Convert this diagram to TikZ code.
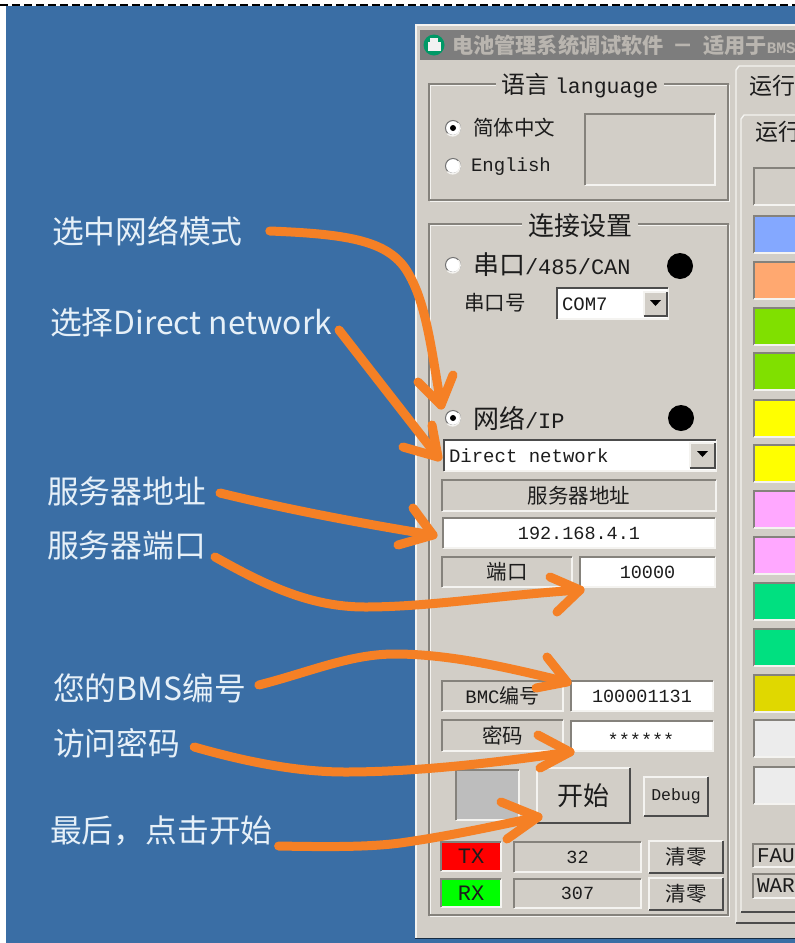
\documentclass[tikz,border=0pt]{standalone}
\usepackage{fontspec}
\setmainfont{Noto Sans CJK SC}
\newfontfamily\mono{Liberation Mono}
\definecolor{desk}{HTML}{3A6EA5}
\definecolor{panel}{HTML}{D2CEC7}
\definecolor{etch}{HTML}{85827C}
\definecolor{hilite}{HTML}{F4F3F0}
\definecolor{arrowor}{HTML}{F58025}
\definecolor{lbl}{HTML}{E6F0F8}
\definecolor{ink}{HTML}{1C1C1C}
\definecolor{ledgray}{HTML}{BDBDBD}
\newcommand{\fs}[1]{\fontsize{#1}{#1}\selectfont}
\tikzset{
  uinode/.style={inner sep=0pt,outer sep=0pt,anchor=center,text=ink,align=center},
  darkedge/.style={draw=etch,line width=1.6pt},
  darkeredge/.style={draw=black!70,line width=2pt},
  liteedge/.style={draw=hilite,line width=1.6pt},
  callout/.style={text=lbl,font=\fs{31.8},anchor=west,inner sep=0pt,outer sep=0pt},
  uitext/.style={text=ink,inner sep=0pt,outer sep=0pt,anchor=west},
  handarrow/.style={draw=arrowor,line width=9pt,line cap=round,line join=round},
  swatch/.style={darkedge},
  groupline/.style={draw=etch,line width=1.2pt}
}
% sunken box: name,x1,y1,x2,y2,fill,size,text
\newcommand{\sunk}[8]{%
  \pgfmathsetmacro\bw{#4-#2}\pgfmathsetmacro\bh{#5-#3}%
  \pgfmathsetmacro\bx{(#2+#4)/2}\pgfmathsetmacro\by{(#3+#5)/2}%
  \node[uinode,fill=#6,minimum width=\bw pt,minimum height=\bh pt,font=\fs{#7}] (#1) at (\bx,\by) {#8};
  \draw[liteedge] (#1.south west) -- (#1.south east) -- (#1.north east);
  \draw[darkedge] (#1.south west) -- (#1.north west) -- (#1.north east);
}
% raised button
\newcommand{\rais}[8]{%
  \pgfmathsetmacro\bw{#4-#2}\pgfmathsetmacro\bh{#5-#3}%
  \pgfmathsetmacro\bx{(#2+#4)/2}\pgfmathsetmacro\by{(#3+#5)/2}%
  \node[uinode,fill=#6,minimum width=\bw pt,minimum height=\bh pt,font=\fs{#7}] (#1) at (\bx,\by) {#8};
  \draw[liteedge] (#1.south west) -- (#1.north west) -- (#1.north east);
  \draw[darkeredge] (#1.south west) -- (#1.south east) -- (#1.north east);
}
% group frame
\newcommand{\grp}[4]{%
  \draw[hilite,line width=1.2pt] (#1+1.5,#2+1.5) rectangle (#3+1.5,#4+1.5);
  \draw[groupline] (#1,#2) rectangle (#3,#4);
}
% radio: name,x,y
\newcommand{\radio}[3]{%
  \node[circle,fill=white,draw=black!55,line width=1pt,minimum size=15pt,inner sep=0pt] (#1) at (#2,#3) {};
  \draw[hilite,line width=1.5pt] (#1.south west) arc[start angle=225,end angle=405,radius=7.5pt];
}
\begin{document}
\begin{tikzpicture}[x=1pt,y=-1pt]
\useasboundingbox (0,0) rectangle (795,943);
\clip (0,0) rectangle (795,943);
\fill[white] (0,0) rectangle (795,943);
\fill[desk] (6,6) rectangle (795,943);
\draw[black,line width=2pt,dash pattern=on 8pt off 4pt] (0,5) -- (795,5);
% window
\fill[panel] (415,24) rectangle (795,938);
\draw[hilite,line width=2pt] (416,938) -- (416,25) -- (795,25);
\draw[black!60!desk,line width=1.5pt] (415,938.5) -- (795,938.5);
\fill[gray!98!black] (420,30) rectangle (795,60);
\node[circle,fill=teal!80!green,minimum size=21pt,inner sep=0pt] (appicon) at (434,45) {};
\fill[white!90!gray] (428,42) rectangle (441,51);
\fill[white!90!gray] (430,38) rectangle (438,42);
\node[uitext,text=black!12!panel,font=\fs{21.2}\bfseries] (wintitle) at (452,45) {电池管理系统调试软件\hspace{9pt}－\hspace{9pt}适用于{\mono\fs{16}BMS}};
% language group
\grp{429}{84}{728}{200}
\node[uinode,fill=panel,font=\fs{24},inner xsep=6pt] (langtitle) at (580,86) {语言 {\mono\fs{21.5}language}};
\radio{radzh}{453}{128}
\fill[black] (radzh) circle (3pt);
\node[uitext,font=\fs{20.5}] (zhlabel) at (473,128) {简体中文};
\radio{raden}{453}{166}
\node[uitext,font=\fs{19}\mono] (enlabel) at (471,167) {English};
\sunk{langbox}{585}{114}{715}{185}{panel}{10}{}
% connection group
\grp{429}{224}{728}{915}
\node[uinode,fill=panel,font=\fs{26},inner xsep=6pt] (conntitle) at (580,226) {连接设置};
\radio{radser}{453}{265}
\node[uitext,font=\fs{26}] (serlabel) at (473,265) {串口{\mono\fs{22}/485/CAN}};
\node[circle,fill=black,minimum size=26pt,inner sep=0pt] (serdot) at (680,266) {};
\node[uitext,font=\fs{20.5}] (comlabel) at (464,303) {串口号};
\node[uinode,fill=white,minimum width=111pt,minimum height=31pt] (combox) at (612.5,303.5) {};
\node[uitext,font=\fs{19}\mono] (comtext) at (562,304) {COM7};
\draw[liteedge] (combox.south west) -- (combox.south east) -- (combox.north east);
\draw[darkeredge] (combox.south west) -- (combox.north west) -- (combox.north east);
\rais{combtn}{644}{292}{667}{316}{panel}{10}{}
\fill[black] (650,300) -- (661,300) -- (655.5,306) -- cycle;
\radio{radnet}{453}{418}
\fill[black] (radnet) circle (3pt);
\node[uitext,font=\fs{26}] (netlabel) at (473,418) {网络{\mono\fs{22}/IP}};
\node[circle,fill=black,minimum size=26pt,inner sep=0pt] (netdot) at (681,418) {};
\node[uinode,fill=white,minimum width=272pt,minimum height=31pt] (combo) at (580,455.5) {};
\node[uitext,font=\fs{19}\mono] (combotext) at (449,456) {Direct network};
\draw[liteedge] (combo.south west) -- (combo.south east) -- (combo.north east);
\draw[darkeredge] (combo.south west) -- (combo.north west) -- (combo.north east);
\rais{netbtn}{690}{443}{715}{468}{panel}{10}{}
\fill[black] (697,451) -- (708,451) -- (702.5,457) -- cycle;
\sunk{addrlbl}{442}{480}{716}{511}{panel}{20.5}{服务器地址}
\sunk{addr}{443}{518}{715}{548}{white}{18.5}{\mono 192.168.4.1}
\sunk{portlbl}{442}{557}{572}{587}{panel}{20.5}{端口}
\sunk{port}{580}{557}{715}{587}{white}{18.5}{\mono 10000}
\sunk{bmclbl}{442}{681}{563}{711}{panel}{20}{{\mono\fs{19}BMC}编号}
\sunk{bmc}{571}{681}{713}{711}{white}{18.5}{\mono 100001131}
\sunk{pwdlbl}{442}{720}{563}{751}{panel}{20.5}{密码}
\sunk{pwd}{571}{721}{713}{751}{white}{18.5}{}
\node[uinode,font=\fs{18.5}\mono] (pwdtext) at (641,740) {******};
\sunk{ledbox}{456}{770}{519}{820}{ledgray}{10}{}
\rais{startbtn}{537}{768}{630}{823}{panel}{26}{开始}
\rais{debugbtn}{644}{777}{708}{816}{panel}{16.5}{\mono Debug}
\sunk{txlbl}{441}{842}{501}{871}{red}{22}{\mono TX}
\sunk{rxlbl}{441}{879}{501}{907}{green}{22}{\mono RX}
\sunk{txcnt}{514}{842}{641}{872}{panel}{18.5}{\mono 32}
\sunk{rxcnt}{514}{879}{641}{908}{panel}{18.5}{\mono 307}
\rais{txclr}{649}{841}{723}{873}{panel}{20.5}{清零}
\rais{rxclr}{649}{878}{723}{910}{panel}{20.5}{清零}
% right tab
\draw[hilite,line width=1.4pt] (736,923) -- (736,70) -- (739,66) -- (795,66);
\draw[darkeredge] (736,923) -- (795,923);
\node[uitext,font=\fs{23}] (tabtitle) at (749,86) {运行};
\draw[hilite,line width=1.4pt] (741,912) -- (741,119) -- (744,115) -- (795,115);
\draw[darkeredge] (741,912) -- (795,912);
\node[uitext,font=\fs{23}] (pagetitle) at (755,132) {运行};
\foreach \yy/\cc in {168/D2CEC7,216/84A8FF,262/FFA870,308/80E000,353/80E000,400/FFFF00,445/FFFF00,491/FFA8FF,537/FFA8FF,583/00E080,629/00E080,675/E0D800,720/ECECEC,767/ECECEC}{
  \definecolor{swc}{HTML}{\cc}
  \fill[swc] (754,\yy) rectangle (795,\yy+37);
  \draw[swatch] (795,\yy) -- (754,\yy) -- (754,\yy+37);
  \draw[liteedge] (754,\yy+37) -- (795,\yy+37);
}
\sunk{fault}{753}{844}{800}{867}{panel}{21}{}
\node[uitext,font=\fs{21}\mono] (faulttext) at (757,856) {FAU};
\sunk{warn}{753}{874}{800}{898}{panel}{21}{}
\node[uitext,font=\fs{21}\mono] (warntext) at (757,886) {WAR};
% callout labels
\node[callout] (c1) at (52,231) {选中网络模式};
\node[callout] (c2) at (50,322) {选择Direct network};
\node[callout] (c3) at (47,491) {服务器地址};
\node[callout] (c4) at (47,545) {服务器端口};
\node[callout] (c5) at (53,688) {您的BMS编号};
\node[callout] (c6) at (53,743) {访问密码};
\node[callout] (c7) at (50,831) {最后，点击开始};
% connectors
\coordinate (t1) at ([shift={(-12pt,13pt)}]radnet.center);
\coordinate (t2) at ([xshift=-6pt,yshift=-1.5pt]combo.west);
\coordinate (t3) at ([xshift=-10pt,yshift=-2pt]addr.west);
\coordinate (t4) at ([yshift=-3pt]port.south west);
\coordinate (t5) at ([xshift=-4pt,yshift=-1pt]bmc.north west);
\coordinate (t6) at ([xshift=-1pt,yshift=-1pt]pwd.south west);
\coordinate (t7) at ([xshift=1pt,yshift=6pt]startbtn.south west);
\draw[handarrow] ([xshift=27pt]c1.east) .. controls (345,234) and (385,240) .. (405,268) .. controls (425,298) and (430,340) .. (t1);
\draw[handarrow] (t1)+(-23,-23) -- (t1) -- +(12,-30);
\draw[handarrow] ([xshift=7pt,yshift=-8pt]c2.east) -- (t2);
\draw[handarrow] (t2)+(-6,-32) -- (t2) -- +(-35,-10);
\draw[handarrow] ([xshift=14pt,yshift=-2pt]c3.east) .. controls (290,510) and (370,525) .. (t3);
\draw[handarrow] (t3)+(-20,-27) -- (t3) -- +(-35,10);
\draw[handarrow] ([xshift=9pt,yshift=-12pt]c4.east) .. controls (265,585) and (310,607) .. (365,607) .. controls (430,607) and (500,595) .. (t4);
\draw[handarrow] (t4)+(-30,-13) -- (t4) -- +(-23,22);
\draw[handarrow] ([xshift=13pt,yshift=3pt]c5.east) .. controls (310,672) and (350,654) .. (395,654) .. controls (450,654) and (510,668) .. (t5);
\draw[handarrow] (t5)+(-20,-25) -- (t5) -- +(-31,6);
\draw[handarrow] ([xshift=14pt,yshift=-4pt]c6.east) .. controls (250,763) and (300,772) .. (345,772) .. controls (420,772) and (500,762) .. (t6);
\draw[handarrow] (t6)+(-32,-17) -- (t6) -- +(-30,16);
\draw[handarrow] ([xshift=6pt,yshift=-15pt]c7.east) .. controls (330,847) and (370,847) .. (400,843) .. controls (450,836) and (500,825) .. (t7);
\draw[handarrow] (t7)+(-37,-15) -- (t7) -- +(-31,22);
\end{tikzpicture}
\end{document}
